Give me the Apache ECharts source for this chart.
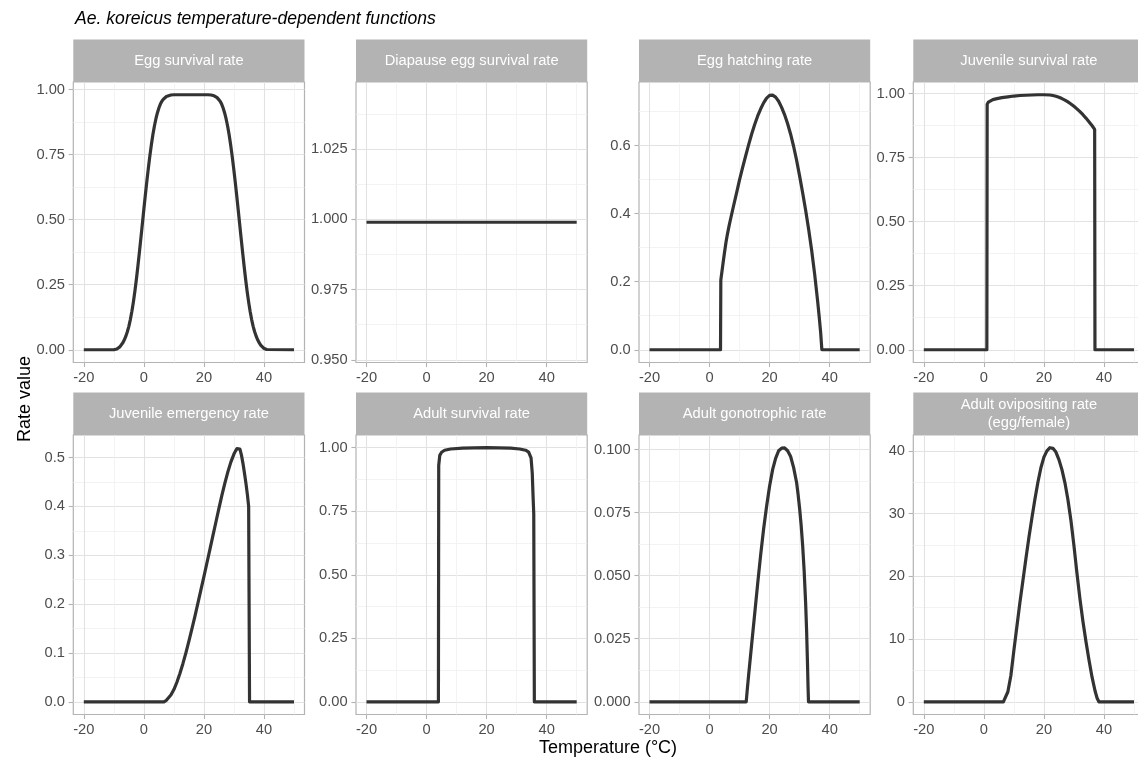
<!DOCTYPE html>
<html>
<head>
<meta charset="utf-8">
<script src="https://cdn.jsdelivr.net/npm/echarts@6/dist/echarts.min.js"></script>
<style>
html,body{margin:0;padding:0;background:#fff;}
#chart{width:1138px;height:764px;}
</style>
</head>
<body>
<div id="chart"></div>
<script>
// temperature axis breaks (shared by every panel)
var tempMajor = [-20, 0, 20, 40];
var tempMinor = [-10, 10, 30, 50];

// Egg survival rate
var eggSurvT = [-20,
  -10,-9.5,-9,-8.5,-8,-7.5,-7,-6.5,-6,-5.5,-5,-4.5,-4,-3.5,-3,-2.5,-2,-1.5,-1,-0.5,0,0.5,1,1.5,2,2.5,3,3.5,4,4.5,5,5.5,6,6.5,7,7.5,8,9,10,
  21.4,22.4,23.4,23.9,24.4,24.9,25.4,25.9,26.4,26.9,27.4,27.9,28.4,28.9,29.4,29.9,30.4,30.9,31.4,31.9,32.4,32.9,33.4,33.9,34.4,34.9,35.4,35.9,36.4,36.9,37.4,37.9,38.4,38.9,39.4,39.9,40.4,40.9,41.4,
  50];
var eggSurvV = [0,
  0,0.001,0.003,0.006,0.011,0.018,0.027,0.038,0.052,0.069,0.09,0.116,0.147,0.183,0.224,0.27,0.32,0.373,0.428,0.484,0.54,0.595,0.648,0.698,0.745,0.788,0.826,0.859,0.887,0.91,0.929,0.944,0.955,0.963,0.969,0.973,0.976,0.979,0.98,
  0.98,0.979,0.976,0.973,0.969,0.963,0.955,0.944,0.929,0.91,0.887,0.859,0.826,0.788,0.745,0.698,0.648,0.595,0.54,0.484,0.428,0.373,0.32,0.27,0.224,0.183,0.147,0.116,0.09,0.069,0.052,0.038,0.027,0.018,0.011,0.006,0.003,0.001,0,
  0];

// Diapause egg survival rate
var diapT = [-20, 50];
var diapV = [0.999, 0.999];

// Egg hatching rate
var eggHatchT = [-20,3.65,3.75,4.5,5,5.5,6,6.5,7,8,9,10,11,12,13,14,15,16,17,18,19,20,20.5,21,22,23,24,25,26,27,28,29,30,31,32,33,34,35,36,36.5,37,37.4,50];
var eggHatchV = [0,0,0.205,0.255,0.287,0.317,0.342,0.364,0.384,0.423,0.461,0.5,0.535,0.569,0.602,0.633,0.661,0.686,0.707,0.725,0.739,0.747,0.749,0.748,0.742,0.73,0.712,0.69,0.664,0.633,0.597,0.556,0.51,0.461,0.41,0.354,0.292,0.222,0.142,0.098,0.05,0,0];

// Juvenile survival rate
var juvSurvT = [-20,1.0,1.1,1.5,2,3,4,6,8,10,12,14,16,18,20,22,23,24,25,26,27,28,29,30,31,32,33,34,35,36,36.9,37.0,50];
var juvSurvV = [0,0,0.958,0.966,0.971,0.976,0.979,0.984,0.987,0.99,0.992,0.993,0.994,0.995,0.995,0.994,0.992,0.989,0.985,0.98,0.974,0.967,0.959,0.95,0.94,0.929,0.917,0.904,0.89,0.875,0.86,0,0];

// Juvenile emergency rate
var juvEmerT = [-20,6.7,7.5,8,9,10,11,12,13,14,15,16,17,18,19,20,21,22,23,24,25,26,27,28,29,30,30.5,31,31.5,32,32.5,33,33.5,34,34.5,34.9,35.2,50];
var juvEmerV = [0,0,0.003,0.006,0.014,0.025,0.04,0.058,0.078,0.1,0.124,0.149,0.175,0.202,0.229,0.256,0.284,0.312,0.34,0.368,0.396,0.423,0.448,0.471,0.491,0.507,0.513,0.518,0.52,0.517,0.505,0.488,0.468,0.447,0.423,0.4,0,0];

// Adult survival rate
var adSurvT = [-20,3.95,4.05,4.4,5,6,8,12,20,28,31,33,34,34.8,35.2,35.5,35.7,35.9,50];
var adSurvV = [0,0,0.93,0.97,0.982,0.99,0.995,0.998,1.0,0.998,0.995,0.99,0.983,0.96,0.9,0.8,0.74,0,0];

// Adult gonotrophic rate
var gonoT = [-20,12.2,12.5,13,14,15,16,17,18,19,20,21,22,23,24,24.5,25,26,27,28,29,29.5,30,30.5,31,31.5,32,32.3,32.6,32.8,32.95,50];
var gonoV = [0,0,0.004,0.0105,0.0225,0.0345,0.0465,0.058,0.0685,0.0775,0.0855,0.092,0.0965,0.0995,0.1005,0.1007,0.1006,0.0995,0.0972,0.0928,0.0868,0.082,0.0765,0.07,0.062,0.052,0.039,0.029,0.016,0.006,0,0];

// Adult ovipositing rate (egg/female)
var ovipT = [-20,6.5,7,8,9,10,11,12,13,14,15,16,17,18,19,20,21,22,23,24,25,26,27,28,29,30,31,32,33,34,35,36,37,37.7,38.3,50];
var ovipV = [0,0,0.3,1.6,4.2,8.2,12,15.8,19.3,22.8,26.2,29.3,32.3,35,37.3,39,40,40.5,40.4,39.8,38.6,37,34.9,32.2,28.9,24.9,20.5,16.4,12.8,9.6,6.7,4,1.8,0.6,0,0];

// y axis breaks
var rateMajor = [0, 0.25, 0.5, 0.75, 1];
var rateMinor = [0.125, 0.375, 0.625, 0.875];
var diapMajor = [0.95, 0.975, 1.0, 1.025];
var diapMinor = [0.9625, 0.9875, 1.0125, 1.0375];
var hatchMajor = [0, 0.2, 0.4, 0.6];
var hatchMinor = [0.1, 0.3, 0.5, 0.7];
var emerMajor = [0, 0.1, 0.2, 0.3, 0.4, 0.5];
var emerMinor = [0.05, 0.15, 0.25, 0.35, 0.45];
var gonoMajor = [0, 0.025, 0.05, 0.075, 0.1];
var gonoMinor = [0.0125, 0.0375, 0.0625, 0.0875];
var ovipMajor = [0, 10, 20, 30, 40];
var ovipMinor = [5, 15, 25, 35];

var panels = [
  {name: 'Egg survival rate', t: eggSurvT, v: eggSurvV, major: rateMajor, minor: rateMinor, dec: 2},
  {name: 'Diapause egg survival rate', t: diapT, v: diapV, major: diapMajor, minor: diapMinor, dec: 3},
  {name: 'Egg hatching rate', t: eggHatchT, v: eggHatchV, major: hatchMajor, minor: hatchMinor, dec: 1},
  {name: 'Juvenile survival rate', t: juvSurvT, v: juvSurvV, major: rateMajor, minor: rateMinor, dec: 2},
  {name: 'Juvenile emergency rate', t: juvEmerT, v: juvEmerV, major: emerMajor, minor: emerMinor, dec: 1},
  {name: 'Adult survival rate', t: adSurvT, v: adSurvV, major: rateMajor, minor: rateMinor, dec: 2},
  {name: 'Adult gonotrophic rate', t: gonoT, v: gonoV, major: gonoMajor, minor: gonoMinor, dec: 3},
  {name: 'Adult ovipositing rate\n(egg/female)', t: ovipT, v: ovipV, major: ovipMajor, minor: ovipMinor, dec: 0}
];

var font = '"Liberation Sans", Arial, Helvetica, sans-serif';
var colLeft = [73.3, 356, 639, 913.3];
var panelW = 231.2;
var rowTop = [82, 435];
var panelH = [280.5, 279.5];
var stripTop = [39.5, 392.5];
var stripH = 42.5;

// ggplot style 5% expansion
function yRange(vals) {
  var lo = Math.min.apply(null, vals), hi = Math.max.apply(null, vals);
  var r = hi - lo;
  if (r === 0) return [lo - 0.05 * Math.abs(lo), hi + 0.05 * Math.abs(hi)];
  return [lo - 0.05 * r, hi + 0.05 * r];
}

var grids = [], xAxes = [], yAxes = [], series = [], graphics = [];

panels.forEach(function (p, i) {
  var col = i % 4, row = Math.floor(i / 4);
  var yr = yRange(p.v);
  grids.push({
    left: colLeft[col], top: rowTop[row], width: panelW, height: panelH[row],
    show: true, borderColor: '#B3B3B3', borderWidth: 1.2, backgroundColor: '#fff',
    containLabel: false, outerBoundsMode: 'none'
  });
  xAxes.push({
    gridIndex: i, type: 'value', min: -23.5, max: 53.5, position: 'bottom',
    axisLine: {show: false, onZero: false},
    axisTick: {show: true, length: 4.6, customValues: tempMajor, lineStyle: {color: '#B3B3B3', width: 1.1}},
    axisLabel: {customValues: tempMajor, margin: 8, color: '#4D4D4D', fontSize: 14.7, fontFamily: font},
    splitLine: {show: true, lineStyle: {color: '#E2E2E2', width: 1.1}}
  });
  xAxes.push({
    gridIndex: i, type: 'value', min: -23.5, max: 53.5, position: 'top',
    axisLine: {show: false, onZero: false},
    axisTick: {show: false, customValues: tempMinor},
    axisLabel: {show: false, customValues: tempMinor},
    splitLine: {show: true, lineStyle: {color: '#F0F0F0', width: 0.8}}
  });
  yAxes.push({
    gridIndex: i, type: 'value', min: yr[0], max: yr[1], position: 'left',
    axisLine: {show: false, onZero: false},
    axisTick: {show: true, length: 4.6, customValues: p.major, lineStyle: {color: '#B3B3B3', width: 1.1}},
    axisLabel: {
      customValues: p.major, margin: 8.3, color: '#4D4D4D', fontSize: 14.7, fontFamily: font,
      formatter: (function (d) { return function (v) { return Number(v).toFixed(d); }; })(p.dec)
    },
    splitLine: {show: true, lineStyle: {color: '#E2E2E2', width: 1.1}}
  });
  yAxes.push({
    gridIndex: i, type: 'value', min: yr[0], max: yr[1], position: 'right',
    axisLine: {show: false, onZero: false},
    axisTick: {show: false, customValues: p.minor},
    axisLabel: {show: false, customValues: p.minor},
    splitLine: {show: true, lineStyle: {color: '#F0F0F0', width: 0.8}}
  });
  series.push({
    type: 'line', xAxisIndex: 2 * i, yAxisIndex: 2 * i,
    data: p.t.map(function (t, k) { return [t, p.v[k]]; }),
    showSymbol: false, symbol: 'none', silent: true,
    lineStyle: {color: '#333333', width: 3.2, join: 'round'},
    itemStyle: {color: '#333333'}
  });
  graphics.push({
    type: 'rect', silent: true,
    shape: {x: colLeft[col], y: stripTop[row], width: panelW, height: stripH},
    style: {fill: '#B3B3B3'}
  });
  graphics.push({
    type: 'text', silent: true,
    x: colLeft[col] + panelW / 2, y: stripTop[row] + stripH / 2,
    style: {text: p.name, fill: '#ffffff', fontSize: 14.7, fontFamily: font, lineHeight: 18,
      align: 'center', verticalAlign: 'middle'}
  });
});

graphics.push({
  type: 'text', silent: true, x: 75, y: 19,
  style: {text: 'Ae. koreicus temperature-dependent functions', fill: '#000', fontSize: 17.6,
    fontStyle: 'italic', fontFamily: font, align: 'left', verticalAlign: 'middle'}
});
graphics.push({
  type: 'text', silent: true, x: 608, y: 748,
  style: {text: 'Temperature (°C)', fill: '#000', fontSize: 18, fontFamily: font,
    align: 'center', verticalAlign: 'middle'}
});
graphics.push({
  type: 'text', silent: true, x: 25, y: 399, rotation: Math.PI / 2,
  style: {text: 'Rate value', fill: '#000', fontSize: 18, fontFamily: font,
    align: 'center', verticalAlign: 'middle'}
});

var chart = echarts.init(document.getElementById('chart'));
chart.setOption({
  backgroundColor: '#fff',
  animation: false,
  grid: grids,
  xAxis: xAxes,
  yAxis: yAxes,
  series: series,
  graphic: graphics
});
</script>
</body>
</html>
